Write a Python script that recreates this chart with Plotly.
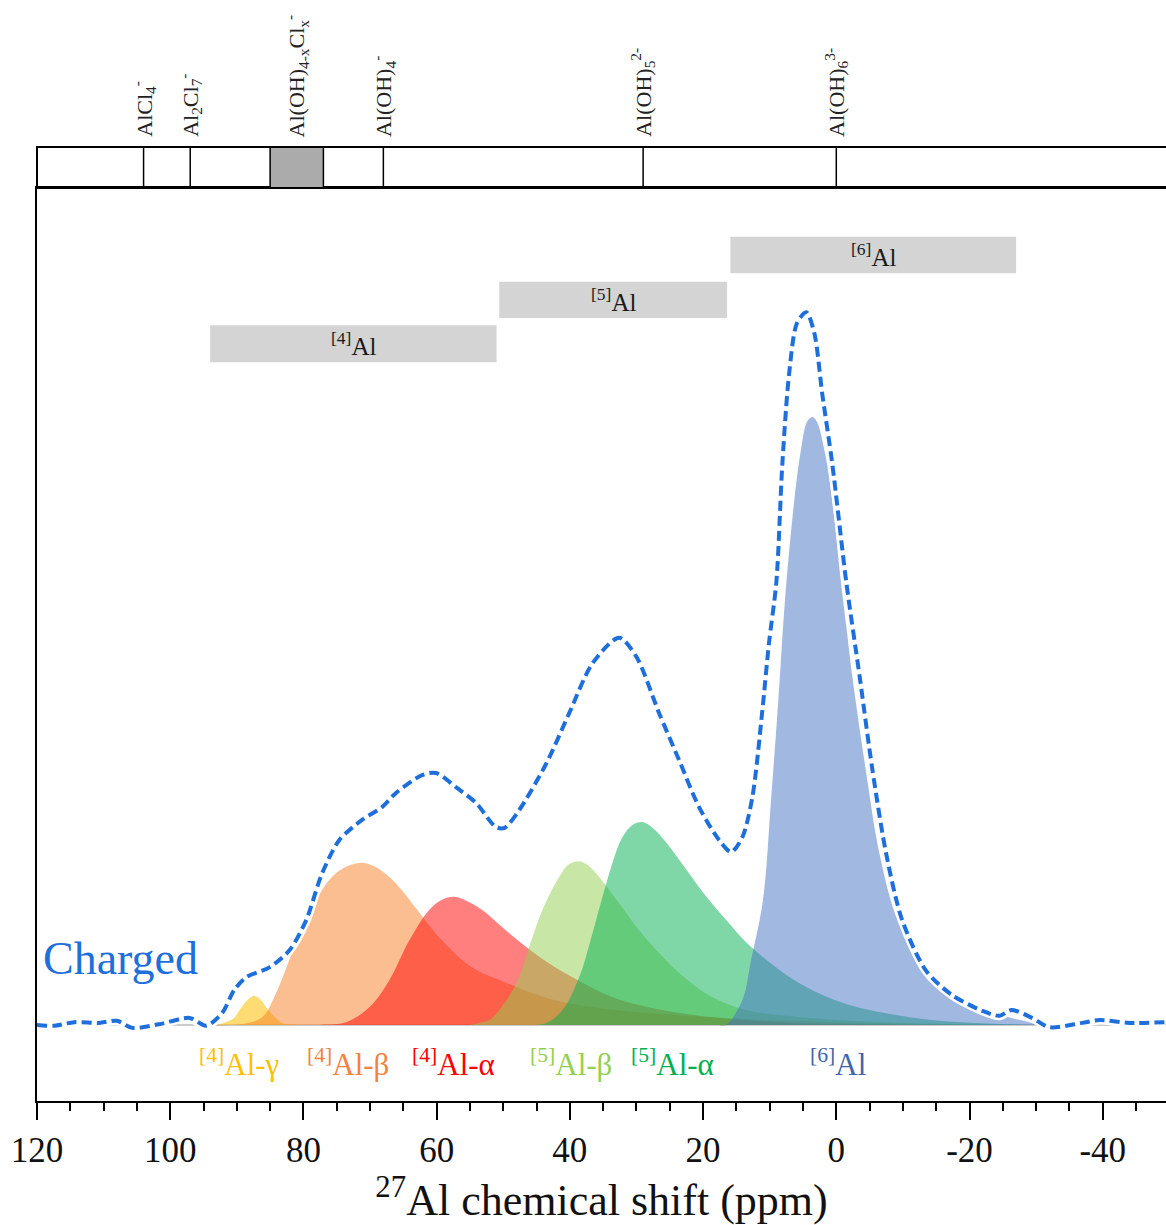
import plotly.graph_objects as go

# ---------------- data ----------------
charged_ppm = [120.0, 117.4, 114.4, 110.7, 108.0, 105.7, 101.7, 97.1, 94.6, 92.2, 90.4, 88.6,
               85.1, 82.1, 79.6, 77.2, 74.6, 71.2, 68.2, 66.1, 62.2, 60.1, 57.1, 54.1, 51.1,
               49.8, 47.6, 43.5, 40.1, 36.6, 32.6, 30.0, 26.6, 23.6, 20.6, 17.6, 15.8, 14.1,
               12.6, 11.1, 10.1, 9.0, 8.1, 7.1, 5.9, 4.5, 3.3, 2.1, 0.6, -1.5, -3.5, -5.4,
               -7.5, -9.9, -13.5, -17.4, -21.9, -24.5, -26.3, -29.4, -32.0, -36.9, -39.5,
               -44.0, -49.4]
charged_int = [0.0, -0.1, 0.4, 0.3, 0.6, -0.4, 0.1, 1.0, -0.1, 1.7, 4.9, 6.7,
               8.1, 10.5, 14.7, 21.3, 26.0, 28.8, 30.6, 32.6, 35.1, 35.4, 33.4, 31.2, 27.8,
               27.7, 30.2, 36.8, 43.8, 50.8, 54.4, 51.7, 43.8, 37.2, 30.6, 26.0, 24.3, 26.4,
               32.0, 44.2, 53.7, 62.2, 78.8, 91.3, 98.6, 100.1, 97.2, 88.6, 78.8, 62.2, 49.0, 36.0,
               24.0, 14.7, 7.6, 4.2, 2.0, 1.3, 2.1, 1.0, -0.3, 0.3, 0.7,
               0.3, 0.4]

al4_gamma_ppm = [93.0, 90.5, 89.6, 88.5, 87.4, 86.4, 85.6, 84.4, 83.2, 81.5, 79.0]
al4_gamma_int = [0.0, 0.9, 2.1, 3.4, 4.1, 3.5, 2.5, 1.2, 0.3, 0.1, 0.0]

al4_beta_ppm = [95.0, 89.6, 86.2, 84.1, 81.7, 79.1, 76.1, 73.9, 71.3, 69.4, 67.1, 65.1, 63.1,
                59.2, 54.7, 49.5, 43.1, 35.6, 20.6, 5.6, -9.5, -25.0]
al4_beta_int = [0.0, 0.1, 1.1, 4.5, 10.1, 15.7, 20.4, 22.1, 22.8, 22.3, 20.8, 18.8, 16.4,
                11.9, 8.1, 5.9, 3.7, 2.4, 1.2, 0.55, 0.15, 0.0]

al4_alpha_ppm = [80.6, 77.2, 73.6, 70.1, 67.1, 64.1, 61.1, 59.2, 57.4, 55.4, 53.2, 49.1, 44.6,
                 39.6, 33.6, 26.1, 18.6, 8.6, -2.0, -20.0]
al4_alpha_int = [0.0, 0.05, 0.4, 2.5, 6.3, 11.9, 16.2, 17.6, 18.0, 17.4, 16.2, 12.9, 9.6,
                 6.7, 3.9, 2.1, 1.1, 0.4, 0.15, 0.0]

al5_beta_ppm = [55.1, 53.6, 52.1, 50.6, 48.0, 46.1, 44.1, 41.6, 40.1, 38.6, 37.1, 35.6, 32.6,
                29.6, 26.6, 23.6, 18.6, 13.5, 8.6, -2.0, -17.0, -30.0]
al5_beta_int = [0.0, 0.3, 0.7, 2.1, 5.9, 11.0, 16.2, 20.8, 22.6, 23.0, 22.3, 20.8, 17.1,
                13.3, 10.1, 7.3, 3.9, 2.1, 1.4, 0.6, 0.15, 0.0]

al5_alpha_ppm = [46.1, 43.5, 41.1, 38.6, 36.6, 35.1, 33.6, 32.1, 30.6, 29.1, 27.6, 25.5, 22.5,
                 19.5, 16.5, 13.5, 9.6, 5.6, 1.0, -4.5, -14.4, -24.5, -35.0]
al5_alpha_int = [0.0, 0.3, 2.1, 6.7, 12.9, 18.0, 22.8, 26.4, 28.1, 28.5, 27.7, 25.6, 21.8,
                 18.0, 14.7, 11.6, 8.5, 5.9, 3.8, 2.2, 0.7, 0.15, 0.0]

al6_ppm = [17.6, 16.5, 14.1, 12.8, 11.0, 9.8, 8.7, 7.7, 6.3, 5.3, 4.4, 3.6, 2.9, 1.8,
           0.6, -0.6, -1.5, -2.4, -4.4, -6.5, -9.2, -13.2, -18.5, -24.5, -29.4, -32.0]
al6_int = [0.0, 0.05, 3.5, 9.1, 17.6, 31.6, 45.6, 59.7, 73.7, 80.8, 84.7, 85.4, 84.7, 80.8,
           73.7, 63.0, 56.0, 49.0, 36.0, 24.0, 14.7, 7.6, 3.5, 1.5, 0.3, 0.0]

component_labels = ["<sup>[4]</sup>Al-γ", "<sup>[4]</sup>Al-β", "<sup>[4]</sup>Al-α",
                    "<sup>[5]</sup>Al-β", "<sup>[5]</sup>Al-α", "<sup>[6]</sup>Al"]
component_label_ppm = [89.6, 73.3, 57.4, 39.9, 24.6, -0.2]

coord_labels = ["<sup>[4]</sup>Al", "<sup>[5]</sup>Al", "<sup>[6]</sup>Al"]
coord_ranges = [(94.0, 51.0), (50.6, 16.4), (15.9, -27.0)]

ref_species = ["AlCl<sub>4</sub><sup>-</sup>", "Al<sub>2</sub>Cl<sub>7</sub><sup>-</sup>",
               "Al(OH)<sub>4</sub><sup>-</sup>", "Al(OH)<sub>5</sub><sup>2-</sup>",
               "Al(OH)<sub>6</sub><sup>3-</sup>"]
ref_ppm = [104.0, 97.0, 68.0, 29.0, 0.0]
mixed_label = "Al(OH)<sub>4-x</sub>Cl<sub>x</sub><sup>-</sup>"
mixed_range = (85.0, 77.0)

x_ticks = [120, 100, 80, 60, 40, 20, 0, -20, -40]
x_tick_text = ["120", "100", "80", "60", "40", "20", "0", "-20", "-40"]

# ---------------- styling ----------------
FONT = "Liberation Serif"
fills = [
    (al4_gamma_ppm, al4_gamma_int, "rgba(255,192,0,0.55)", "#FFC000"),
    (al4_beta_ppm, al4_beta_int, "rgba(247,125,35,0.5)", "#F4823C"),
    (al4_alpha_ppm, al4_alpha_int, "rgba(255,0,0,0.5)", "#FF0000"),
    (al5_beta_ppm, al5_beta_int, "rgba(146,208,80,0.5)", "#92D050"),
    (al5_alpha_ppm, al5_alpha_int, "rgba(0,176,80,0.5)", "#00B050"),
    (al6_ppm, al6_int, "rgba(68,114,196,0.5)", "#4066AC"),
]

fig = go.Figure()

for xs, ys, fc, _ in fills:
    fig.add_trace(go.Scatter(x=xs, y=ys, mode="lines", fill="tozeroy", fillcolor=fc,
                             line=dict(width=0, shape="spline", smoothing=1.0),
                             hoverinfo="skip", showlegend=False))

# baseline
fig.add_shape(type="line", xref="x", yref="y", x0=120, x1=-49.5, y0=0, y1=0,
              line=dict(color="#BBBBBB", width=1.5), layer="below")

# charged spectrum: white halo + blue dashed line
fig.add_trace(go.Scatter(x=charged_ppm, y=charged_int, mode="lines",
                         line=dict(color="white", width=9, shape="spline", smoothing=0.8),
                         hoverinfo="skip", showlegend=False))
fig.add_trace(go.Scatter(x=charged_ppm, y=charged_int, mode="lines",
                         line=dict(color="#1E6FDC", width=4, dash="10px,5px",
                                   shape="spline", smoothing=0.8),
                         showlegend=False))

# coordination boxes
coord_y = [(93.1, 98.3), (99.3, 104.4), (105.6, 110.7)]
for (x0, x1), (y0, y1), lab in zip(coord_ranges, coord_y, coord_labels):
    fig.add_shape(type="rect", xref="x", yref="y", x0=x0, x1=x1, y0=y0, y1=y1,
                  fillcolor="#D4D4D4", line=dict(width=0), layer="below")
    fig.add_annotation(x=(x0 + x1) / 2, y=(y0 + y1) / 2, xref="x", yref="y", text=lab,
                       showarrow=False, font=dict(family=FONT, size=25, color="#1a1a1a"),
                       xanchor="center", yanchor="middle")

# component labels
for lab, px, (_, _, _, tc) in zip(component_labels, component_label_ppm, fills):
    fig.add_annotation(x=px, y=-5.3, xref="x", yref="y", text=lab, showarrow=False,
                       font=dict(family=FONT, size=31, color=tc),
                       xanchor="center", yanchor="middle")

# "Charged"
fig.add_annotation(x=119.4, y=9.3, xref="x", yref="y", text="Charged", showarrow=False,
                   font=dict(family=FONT, size=46, color="#1E6FDC"),
                   xanchor="left", yanchor="middle")

# top reference panel
P_BOT, P_TOP = 1.0, 1.0449
fig.add_shape(type="rect", xref="x", yref="paper", x0=mixed_range[0], x1=mixed_range[1],
              y0=P_BOT, y1=P_TOP, fillcolor="#ABABAB", line=dict(color="black", width=1.5))
fig.add_shape(type="rect", xref="paper", yref="paper", x0=0, x1=1.02, y0=P_BOT, y1=P_TOP,
              line=dict(color="black", width=2), fillcolor="rgba(0,0,0,0)")
for p in ref_ppm:
    fig.add_shape(type="line", xref="x", yref="paper", x0=p, x1=p, y0=P_BOT, y1=P_TOP,
                  line=dict(color="black", width=1.5))

label_y = 1.0535
for lab, p in zip(ref_species, ref_ppm):
    fig.add_annotation(x=p, y=label_y, xref="x", yref="paper", text=lab, showarrow=False,
                       textangle=-90, font=dict(family=FONT, size=22, color="#222"),
                       xanchor="center", yanchor="bottom")
fig.add_annotation(x=(mixed_range[0] + mixed_range[1]) / 2, y=label_y, xref="x", yref="paper",
                   text=mixed_label, showarrow=False, textangle=-90,
                   font=dict(family=FONT, size=22, color="#222"),
                   xanchor="center", yanchor="bottom")

fig.update_layout(
    width=1166, height=1225,
    margin=dict(l=37, r=0, t=188, b=124),
    paper_bgcolor="white", plot_bgcolor="white",
    showlegend=False,
    xaxis=dict(range=[120, -49.5], tickvals=x_ticks, ticktext=x_tick_text,
               ticks="outside", ticklen=17, tickwidth=2, tickcolor="black",
               minor=dict(dtick=5, ticks="outside", ticklen=8, tickwidth=2, tickcolor="black"),
               showline=True, linecolor="black", linewidth=2, mirror=True,
               showgrid=False, zeroline=False,
               tickfont=dict(family=FONT, size=35, color="#111"),
               title=dict(text="<sup>27</sup>Al chemical shift (ppm)",
                          font=dict(family=FONT, size=44, color="#111"), standoff=6)),
    yaxis=dict(range=[-10.67, 117.56], showticklabels=False, ticks="",
               showgrid=False, zeroline=False,
               showline=True, linecolor="black", linewidth=2),
)

fig.write_html("out.html", config={"displayModeBar": False},
               post_script="document.body.style.margin='0';")
